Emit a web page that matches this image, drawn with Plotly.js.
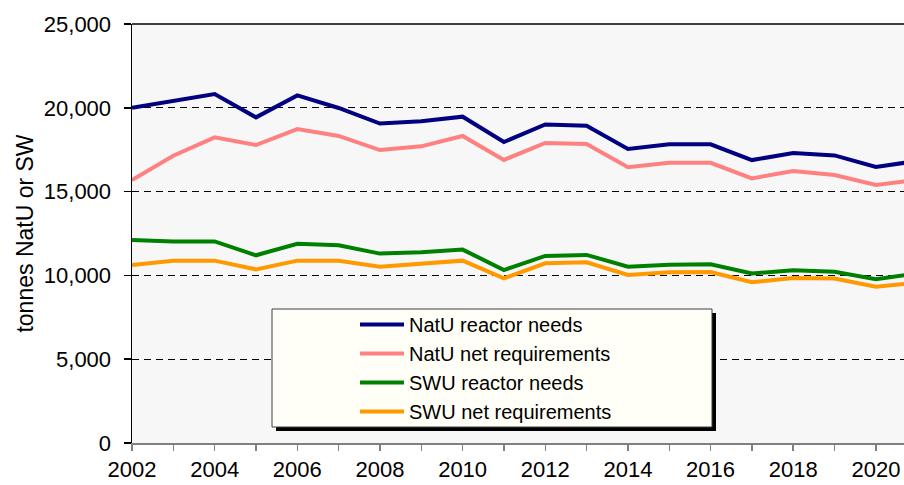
<!DOCTYPE html>
<html>
<head>
<meta charset="utf-8">
<script src="https://cdn.plot.ly/plotly-3.0.1.min.js"></script>
<style>html,body{margin:0;padding:0;background:#fff;}#chart{width:904px;height:485px;}</style>
</head>
<body>
<div id="chart"></div>
<script>
var years = [2002, 2003, 2004, 2005, 2006, 2007, 2008, 2009, 2010, 2011, 2012, 2013, 2014, 2015, 2016, 2017, 2018, 2019, 2020, 2021];
var natuReactorNeeds = [20000, 20400, 20820, 19430, 20740, 19990, 19060, 19200, 19470, 17960, 19010, 18930, 17540, 17820, 17820, 16880, 17300, 17160, 16470, 16830];
var natuNetRequirements = [15690, 17140, 18240, 17780, 18730, 18320, 17480, 17700, 18320, 16890, 17900, 17840, 16450, 16720, 16720, 15790, 16230, 15990, 15390, 15700];
var swuReactorNeeds = [12110, 12030, 12030, 11200, 11890, 11800, 11300, 11380, 11540, 10320, 11160, 11220, 10520, 10640, 10660, 10120, 10300, 10220, 9770, 10130];
var swuNetRequirements = [10620, 10880, 10880, 10360, 10880, 10880, 10520, 10700, 10880, 9830, 10720, 10780, 10030, 10190, 10200, 9590, 9850, 9810, 9330, 9570];
var seriesNames = ['NatU reactor needs', 'NatU net requirements', 'SWU reactor needs', 'SWU net requirements'];
var seriesColors = ['#000080', '#ff8080', '#008000', '#ff9900'];
var yTickVals = [0, 5000, 10000, 15000, 20000, 25000];
var xTickVals = [2002, 2004, 2006, 2008, 2010, 2012, 2014, 2016, 2018, 2020];

var FONT = 'Liberation Sans, Arial, sans-serif';
var allSeries = [natuReactorNeeds, natuNetRequirements, swuReactorNeeds, swuNetRequirements];
var traces = allSeries.map(function (vals, i) {
  return {
    type: 'scatter', mode: 'lines', x: years, y: vals, name: seriesNames[i],
    line: {color: seriesColors[i], width: 4}, cliponaxis: true
  };
});

var layout = {
  width: 904, height: 485,
  margin: {l: 132, r: 0, t: 24, b: 42, pad: 0},
  paper_bgcolor: '#ffffff',
  plot_bgcolor: '#f7f7f7',
  font: {family: FONT, color: '#000000', size: 22},
  showlegend: true,
  xaxis: {
    range: [2002, 2020.68], tickvals: xTickVals, ticktext: xTickVals.map(String),
    showgrid: false, zeroline: false,
    showline: true, linecolor: '#808080', linewidth: 1.5,
    ticks: 'outside', ticklen: 6, tickcolor: '#808080', tickwidth: 1.5,
    minor: {dtick: 1, tick0: 2002, ticks: 'outside', ticklen: 6, tickcolor: '#808080', tickwidth: 1.5, showgrid: false},
    tickfont: {size: 22, family: FONT}
  },
  yaxis: {
    range: [0, 25000], tickvals: yTickVals, tickformat: ',d',
    showgrid: true, gridcolor: '#000000', gridwidth: 1, griddash: '7px,5px',
    zeroline: false,
    showline: true, linecolor: '#000000', linewidth: 1.5,
    ticks: 'outside', ticklen: 7, tickcolor: '#000000', tickwidth: 1.5,
    ticklabelstandoff: 8,
    tickfont: {size: 22, family: FONT},
    title: {text: 'tonnes NatU or SW', font: {size: 23, family: FONT}, standoff: 4}
  },
  legend: {
    x: (355 - 132) / 772, y: (443 - 305) / 419, xanchor: 'left', yanchor: 'top',
    bgcolor: 'rgba(0,0,0,0)', borderwidth: 0,
    font: {size: 20, family: FONT}, itemwidth: 44, tracegroupgap: 0
  },
  shapes: [
    {type: 'rect', xref: 'paper', yref: 'paper', x0: (276 - 132) / 772, x1: (716 - 132) / 772, y0: (443 - 431) / 419, y1: (443 - 313) / 419, fillcolor: '#000000', line: {width: 0}, layer: 'above'},
    {type: 'rect', xref: 'paper', yref: 'paper', x0: (272 - 132) / 772, x1: (712 - 132) / 772, y0: (443 - 427) / 419, y1: (443 - 309) / 419, fillcolor: '#fffff7', line: {color: '#404040', width: 1}, layer: 'above'},
    {type: 'line', xref: 'paper', yref: 'paper', x0: 0, x1: 1, y0: 1, y1: 1, line: {color: '#000000', width: 1.5}, layer: 'above'}
  ]
};

Plotly.newPlot('chart', traces, layout, {displayModeBar: false, staticPlot: true});
</script>
</body>
</html>
